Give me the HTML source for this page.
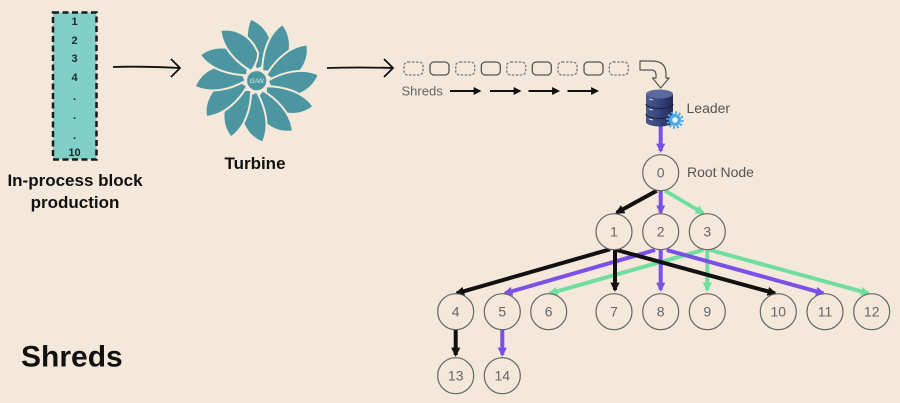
<!DOCTYPE html>
<html><head><meta charset="utf-8"><style>
html,body{margin:0;padding:0;background:#f3e8d9;}
svg{display:block;}
text{font-family:"Liberation Sans",sans-serif;}
</style></head><body>
<svg width="900" height="403" viewBox="0 0 900 403" xmlns="http://www.w3.org/2000/svg">
<defs>
<marker id="ak" viewBox="0 0 10 10" refX="8" refY="5" markerWidth="2.3" markerHeight="2.3" orient="auto"><path d="M0,0 L10,5 L0,10 Z" fill="#111"/></marker>
<marker id="ap" viewBox="0 0 10 10" refX="8" refY="5" markerWidth="2.3" markerHeight="2.3" orient="auto"><path d="M0,0 L10,5 L0,10 Z" fill="#7a50e6"/></marker>
<marker id="ag" viewBox="0 0 10 10" refX="8" refY="5" markerWidth="2.3" markerHeight="2.3" orient="auto"><path d="M0,0 L10,5 L0,10 Z" fill="#70dea0"/></marker>
<marker id="as" viewBox="0 0 10 10" refX="8" refY="5" markerWidth="4" markerHeight="4" orient="auto"><path d="M0,0 L10,5 L0,10 Z" fill="#111"/></marker>
<linearGradient id="cyl" x1="0" x2="1" y1="0" y2="0">
<stop offset="0" stop-color="#4a5a8c"/><stop offset="0.5" stop-color="#36447a"/><stop offset="1" stop-color="#222b55"/>
</linearGradient>
<path id="blade" d="M0,-11 C-8,-25 -14,-45 -6,-62 C9,-56 18,-41 15,-23 C11,-17 5,-13 0,-11 Z" fill="#4b96a0" stroke="#f3e8d9" stroke-width="2" stroke-linejoin="round"/>
</defs>

<!-- block -->
<rect x="53" y="12.5" width="43.5" height="147" fill="#80cfc8" stroke="#1a1a1a" stroke-width="2.5" stroke-dasharray="6,3.5"/>
<g font-size="11" font-weight="bold" fill="#1c2a2a" text-anchor="middle">
<text x="74.5" y="25">1</text>
<text x="74.5" y="44">2</text>
<text x="74.5" y="62">3</text>
<text x="74.5" y="81">4</text>
<text x="74.5" y="100">.</text>
<text x="74.5" y="119">.</text>
<text x="74.5" y="139">.</text>
<text x="74.5" y="156">10</text>
</g>
<text x="75" y="186" font-size="17" font-weight="bold" fill="#111" text-anchor="middle">In-process block</text>
<text x="75" y="208" font-size="17" font-weight="bold" fill="#111" text-anchor="middle">production</text>

<!-- hand arrow 1 -->
<path d="M113,67 Q145,66 180,68" fill="none" stroke="#111" stroke-width="1.8"/>
<path d="M171,59 L180,68 L171,77" fill="none" stroke="#111" stroke-width="1.8" stroke-linejoin="round"/>

<!-- turbine -->
<g transform="translate(256.7,80.7)">
<use href="#blade" transform="rotate(0)"/>
<use href="#blade" transform="rotate(30)"/>
<use href="#blade" transform="rotate(60)"/>
<use href="#blade" transform="rotate(90)"/>
<use href="#blade" transform="rotate(120)"/>
<use href="#blade" transform="rotate(150)"/>
<use href="#blade" transform="rotate(180)"/>
<use href="#blade" transform="rotate(210)"/>
<use href="#blade" transform="rotate(240)"/>
<use href="#blade" transform="rotate(270)"/>
<use href="#blade" transform="rotate(300)"/>
<use href="#blade" transform="rotate(330)"/>
<circle r="10.5" fill="#4b96a0" stroke="#f3e8d9" stroke-width="1.8"/>
<text y="2.5" font-size="6.5" fill="#dfeeee" text-anchor="middle" font-style="italic">GAN</text>
</g>
<text x="255" y="169" font-size="17" font-weight="bold" fill="#111" text-anchor="middle">Turbine</text>

<!-- hand arrow 2 -->
<path d="M327,68 Q360,67 393,68" fill="none" stroke="#111" stroke-width="1.8"/>
<path d="M384,59 L393,68 L384,77" fill="none" stroke="#111" stroke-width="1.8" stroke-linejoin="round"/>

<!-- shred boxes -->
<g fill="none" stroke-width="1.3">
<rect x="404" y="62" width="19" height="13" rx="4" stroke="#777" stroke-dasharray="2.5,1.5"/>
<rect x="430" y="62" width="19" height="13" rx="4" stroke="#555"/>
<rect x="455.7" y="62" width="19" height="13" rx="4" stroke="#777" stroke-dasharray="2.5,1.5"/>
<rect x="481.3" y="62" width="19" height="13" rx="4" stroke="#555"/>
<rect x="506.7" y="62" width="19" height="13" rx="4" stroke="#777" stroke-dasharray="2.5,1.5"/>
<rect x="532.3" y="62" width="19" height="13" rx="4" stroke="#555"/>
<rect x="558" y="62" width="19" height="13" rx="4" stroke="#777" stroke-dasharray="2.5,1.5"/>
<rect x="584" y="62" width="19" height="13" rx="4" stroke="#555"/>
<rect x="609.3" y="62" width="19" height="13" rx="4" stroke="#777" stroke-dasharray="2.5,1.5"/>
</g>
<text x="401.5" y="95.5" font-size="13" fill="#666">Shreds</text>
<g stroke="#111" stroke-width="2">
<line x1="450" y1="91" x2="480" y2="91" marker-end="url(#as)"/>
<line x1="490" y1="91" x2="520" y2="91" marker-end="url(#as)"/>
<line x1="528.5" y1="91" x2="558.5" y2="91" marker-end="url(#as)"/>
<line x1="567.5" y1="91" x2="597.5" y2="91" marker-end="url(#as)"/>
</g>

<!-- bent hollow arrow -->
<path d="M640,61 L652,61 Q666,61 666,74 L666,78 L669,78 L660.7,88 L652.5,78 L656,78 L656,75 Q656,70 651,70 L640,70 Z" fill="#f3e8d9" stroke="#555" stroke-width="1.2" stroke-linejoin="round"/>

<!-- leader db -->
<line x1="660.7" y1="126" x2="660.7" y2="151" stroke="#7a50e6" stroke-width="4" marker-end="url(#ap)"/>
<g>
<path d="M646,94 L646,122 A13.5,4.5 0 0 0 673,122 L673,94 Z" fill="url(#cyl)"/>
<ellipse cx="659.5" cy="94" rx="13.5" ry="4.5" fill="#5a6a9c"/>
<path d="M646,104 A13.5,4.5 0 0 0 673,104" fill="none" stroke="#1c2347" stroke-width="1.2"/>
<path d="M646,114 A13.5,4.5 0 0 0 673,114" fill="none" stroke="#1c2347" stroke-width="1.2"/>
<line x1="649" y1="99" x2="653" y2="100" stroke="#c8d4f0" stroke-width="1"/>
<line x1="649" y1="109" x2="653" y2="110" stroke="#c8d4f0" stroke-width="1"/>
<line x1="649" y1="119" x2="653" y2="120" stroke="#c8d4f0" stroke-width="1"/>
<circle cx="675" cy="120" r="6" fill="#4aa8ec"/>
<circle cx="675" cy="120" r="7.5" fill="none" stroke="#4aa8ec" stroke-width="2.5" stroke-dasharray="2,1.9"/>
<circle cx="675" cy="120" r="2.8" fill="#e6f2fb"/>
</g>
<text x="686.5" y="113" font-size="14" fill="#555">Leader</text>

<!-- edges -->
<g stroke-width="4" fill="none">
<line x1="656.7" y1="190.7" x2="616.7" y2="212.7" stroke="#111" marker-end="url(#ak)"/>
<line x1="660.7" y1="190.7" x2="660.7" y2="212.7" stroke="#7a50e6" marker-end="url(#ap)"/>
<line x1="665" y1="190.7" x2="703.3" y2="213.3" stroke="#70dea0" marker-end="url(#ag)"/>

<line x1="710" y1="250" x2="868.3" y2="293.3" stroke="#70dea0" marker-end="url(#ag)"/>
<line x1="703.3" y1="250" x2="550" y2="293.3" stroke="#70dea0" marker-end="url(#ag)"/>
<line x1="707.3" y1="250" x2="707.3" y2="290" stroke="#70dea0" marker-end="url(#ag)"/>

<line x1="666.7" y1="250" x2="823.3" y2="293.3" stroke="#7a50e6" marker-end="url(#ap)"/>
<line x1="655" y1="250" x2="505" y2="293.3" stroke="#7a50e6" marker-end="url(#ap)"/>
<line x1="660.7" y1="250" x2="660.7" y2="290" stroke="#7a50e6" marker-end="url(#ap)"/>

<line x1="610" y1="249.3" x2="456.7" y2="293.3" stroke="#111" marker-end="url(#ak)"/>
<line x1="615" y1="250" x2="615" y2="290" stroke="#111" marker-end="url(#ak)"/>
<line x1="616.7" y1="250" x2="775" y2="293.3" stroke="#111" marker-end="url(#ak)"/>

<line x1="455.7" y1="330" x2="455.7" y2="355" stroke="#111" marker-end="url(#ak)"/>
<line x1="502.3" y1="330" x2="502.3" y2="355" stroke="#7a50e6" marker-end="url(#ap)"/>
</g>

<!-- nodes -->
<g fill="#f3e8d9" stroke="#666" stroke-width="1.2">
<circle cx="660.7" cy="172.7" r="18"/>
<circle cx="614" cy="231.7" r="18"/>
<circle cx="660.7" cy="231.7" r="18"/>
<circle cx="707.3" cy="231.7" r="18"/>
<circle cx="455.7" cy="311.7" r="18"/>
<circle cx="502.3" cy="311.7" r="18"/>
<circle cx="548.7" cy="311.7" r="18"/>
<circle cx="614" cy="311.7" r="18"/>
<circle cx="660.7" cy="311.7" r="18"/>
<circle cx="707.3" cy="311.7" r="18"/>
<circle cx="778.3" cy="311.7" r="18"/>
<circle cx="825" cy="311.7" r="18"/>
<circle cx="871.7" cy="311.7" r="18"/>
<circle cx="455.7" cy="375.7" r="18"/>
<circle cx="502.3" cy="375.7" r="18"/>
</g>
<g font-size="14" fill="#666" text-anchor="middle">
<text x="660.7" y="177.7">0</text>
<text x="614" y="236.7">1</text>
<text x="660.7" y="236.7">2</text>
<text x="707.3" y="236.7">3</text>
<text x="455.7" y="316.7">4</text>
<text x="502.3" y="316.7">5</text>
<text x="548.7" y="316.7">6</text>
<text x="614" y="316.7">7</text>
<text x="660.7" y="316.7">8</text>
<text x="707.3" y="316.7">9</text>
<text x="778.3" y="316.7">10</text>
<text x="825" y="316.7">11</text>
<text x="871.7" y="316.7">12</text>
<text x="455.7" y="380.7">13</text>
<text x="502.3" y="380.7">14</text>
</g>
<text x="687" y="177" font-size="14" fill="#555">Root Node</text>

<!-- big title -->
<text x="21" y="366.5" font-size="30" font-weight="bold" fill="#111">Shreds</text>
</svg>
</body></html>
